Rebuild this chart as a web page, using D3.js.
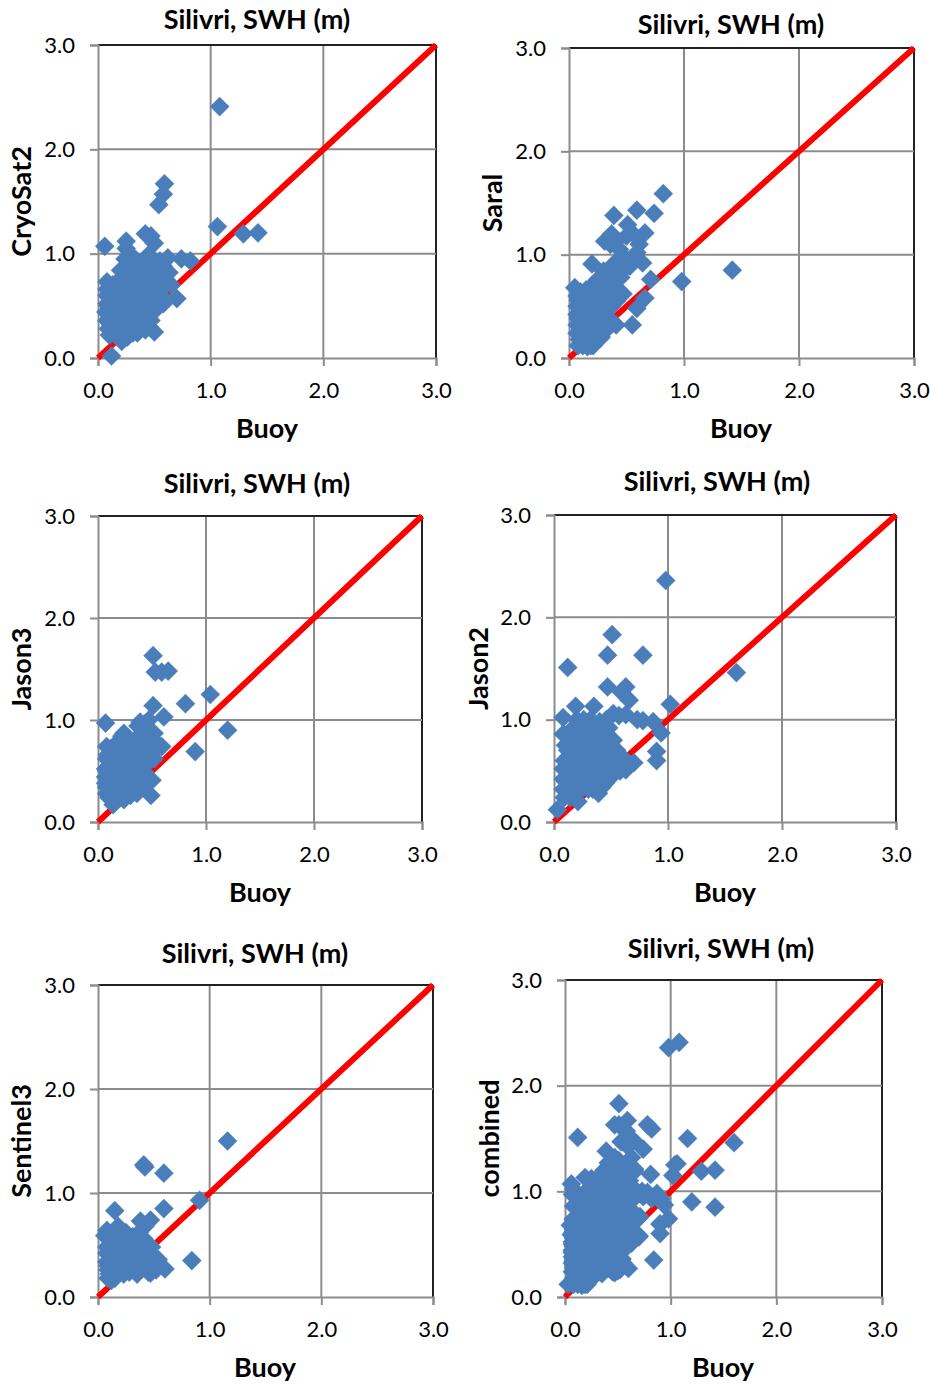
<!DOCTYPE html>
<html>
<head>
<meta charset="utf-8">
<script src="https://cdn.jsdelivr.net/npm/d3@7"></script>
<style>
  html, body { margin: 0; padding: 0; background: #fff; }
  text { font-family: Lato, "Open Sans", sans-serif; fill: #000; }
  .tick text { font-size: 22px; }
  .title, .axis-label { font-size: 27px; font-weight: 700; }
</style>
</head>
<body>
<svg width="931" height="1384"></svg>
<script>
const svg = d3.select("svg");

const tickValues = [0, 1, 2, 3];
const titleText = "Silivri, SWH (m)";
const xLabelText = "Buoy";
const refLine = [[0, 0], [3, 3]];

// [buoy, satellite], outliers first then the dense cloud
const cryosat2 = [
  [1.08,2.41],[0.59,1.67],[0.58,1.57],[0.54,1.47],[1.06,1.26],[1.29,1.19],[1.42,1.20],[0.06,1.07],
  [0.25,1.12],[0.25,1.05],[0.42,1.19],[0.47,1.17],[0.50,1.10],[0.12,0.02],[0.82,0.93],[0.74,0.95],
  [0.62,0.96],[0.55,0.93],[0.70,0.57],[0.65,0.70],[0.60,0.75],[0.50,0.25],[0.42,0.27],[0.37,0.27],
  [0.08,0.52],[0.07,0.44],[0.08,0.60],[0.08,0.36],[0.08,0.66],[0.08,0.73],[0.09,0.50],[0.09,0.28],
  [0.09,0.42],[0.10,0.22],[0.10,0.58],[0.10,0.34],[0.11,0.65],[0.12,0.47],[0.13,0.70],[0.14,0.40],
  [0.14,0.55],[0.15,0.30],[0.16,0.62],[0.17,0.48],[0.18,0.22],[0.18,0.74],[0.19,0.36],[0.20,0.84],
  [0.20,0.56],[0.21,0.16],[0.22,0.44],[0.23,0.66],[0.24,0.95],[0.24,0.28],[0.25,0.76],[0.25,0.52],
  [0.26,0.20],[0.27,0.88],[0.27,0.38],[0.28,0.60],[0.29,0.70],[0.30,0.46],[0.30,0.98],[0.31,0.24],
  [0.32,0.82],[0.32,0.54],[0.33,0.33],[0.34,0.64],[0.35,0.90],[0.36,0.42],[0.36,0.74],[0.38,0.56],
  [0.39,0.86],[0.40,0.68],[0.40,0.36],[0.41,0.94],[0.42,0.48],[0.43,0.78],[0.44,0.60],[0.45,0.99],
  [0.46,0.42],[0.46,0.72],[0.47,0.86],[0.48,0.54],[0.50,0.66],[0.51,0.80],[0.52,0.50],[0.55,0.74],
  [0.56,0.60],[0.58,0.88],[0.45,0.30],[0.40,0.30],[0.47,0.36],[0.53,0.55],[0.35,0.24],[0.50,0.45],
  [0.58,0.52],[0.56,0.66],[0.63,0.82]
];

const saral = [
  [0.82,1.59],[0.59,1.43],[0.74,1.40],[0.39,1.38],[0.51,1.29],[0.66,1.21],[0.56,1.20],[0.37,1.20],
  [0.31,1.13],[0.61,1.10],[0.20,0.91],[0.64,0.92],[1.42,0.85],[0.98,0.74],[0.71,0.76],[0.66,0.58],
  [0.59,0.48],[0.55,0.32],[0.41,0.32],[0.50,0.95],[0.53,0.89],[0.43,0.95],[0.39,0.86],[0.44,1.05],
  [0.59,1.02],[0.36,1.10],[0.40,1.12],[0.50,1.18],
  [0.05,0.68],[0.07,0.60],[0.07,0.50],[0.07,0.42],[0.07,0.32],[0.07,0.24],[0.08,0.12],[0.08,0.56],
  [0.08,0.38],[0.09,0.18],[0.10,0.64],[0.10,0.46],[0.11,0.28],[0.12,0.12],[0.13,0.54],[0.14,0.36],
  [0.15,0.66],[0.15,0.20],[0.16,0.46],[0.17,0.28],[0.18,0.58],[0.19,0.12],[0.20,0.70],[0.20,0.38],
  [0.21,0.12],[0.22,0.50],[0.23,0.22],[0.24,0.64],[0.25,0.30],[0.25,0.76],[0.26,0.42],[0.27,0.54],
  [0.28,0.72],[0.29,0.34],[0.30,0.62],[0.30,0.84],[0.31,0.48],[0.32,0.76],[0.33,0.40],[0.34,0.58],
  [0.35,0.68],[0.36,0.82],[0.37,0.50],[0.38,0.90],[0.39,0.62],[0.40,0.74],[0.41,0.55],[0.43,0.66],
  [0.45,0.78],[0.47,0.62],[0.48,0.86],[0.28,0.20],[0.33,0.28],[0.38,0.34],[0.16,0.11],[0.25,0.18]
];

const jason3 = [
  [0.51,1.63],[0.53,1.47],[0.59,1.47],[0.65,1.48],[1.04,1.25],[0.81,1.16],[0.51,1.14],[0.61,1.03],
  [0.07,0.97],[0.39,0.98],[0.47,1.00],[1.20,0.90],[0.90,0.69],[0.49,0.26],[0.50,0.41],[0.59,0.74],
  [0.52,0.87],[0.43,0.96],[0.46,0.74],
  [0.24,0.87],[0.08,0.74],[0.14,0.17],[0.07,0.52],[0.07,0.44],[0.07,0.38],[0.08,0.62],[0.08,0.28],
  [0.08,0.50],[0.08,0.34],[0.09,0.66],[0.10,0.42],[0.10,0.24],[0.11,0.56],[0.12,0.72],[0.13,0.30],
  [0.14,0.48],[0.15,0.62],[0.16,0.20],[0.17,0.38],[0.18,0.78],[0.18,0.54],[0.19,0.28],[0.20,0.68],
  [0.21,0.44],[0.22,0.84],[0.23,0.58],[0.24,0.34],[0.25,0.74],[0.26,0.50],[0.27,0.28],[0.27,0.64],
  [0.28,0.82],[0.29,0.42],[0.30,0.56],[0.31,0.70],[0.32,0.34],[0.33,0.50],[0.34,0.80],[0.35,0.62],
  [0.36,0.42],[0.37,0.94],[0.38,0.72],[0.39,0.54],[0.40,0.86],[0.41,0.36],[0.42,0.64],[0.43,0.78],
  [0.44,0.48],[0.45,0.90],[0.46,0.58],[0.48,0.68],[0.50,0.82],[0.52,0.62],[0.54,0.72],[0.30,0.26],
  [0.36,0.28],[0.24,0.22],[0.44,0.40]
];

const jason2 = [
  [0.98,2.36],[0.51,1.83],[0.47,1.63],[0.78,1.63],[0.12,1.51],[1.60,1.46],[0.47,1.32],[0.63,1.32],
  [0.59,1.27],[0.66,1.19],[1.02,1.15],[0.19,1.13],[0.35,1.13],[0.08,1.02],[0.52,1.06],[0.63,1.05],
  [0.73,1.00],[0.78,0.99],[0.87,0.98],[0.94,0.87],[0.90,0.69],[0.90,0.60],[0.70,0.58],[0.63,0.51],
  [0.39,0.28],[0.21,0.20],[0.03,0.12],[0.46,1.00],[0.57,1.04],
  [0.08,0.42],[0.08,0.32],[0.08,0.52],[0.09,0.24],[0.09,0.60],[0.10,0.40],[0.11,0.30],[0.12,0.70],
  [0.13,0.50],[0.14,0.84],[0.14,0.24],[0.15,0.62],[0.16,0.38],[0.17,0.92],[0.18,0.74],[0.19,0.52],
  [0.20,0.30],[0.21,0.84],[0.22,0.64],[0.23,0.44],[0.24,0.96],[0.25,0.74],[0.26,0.34],[0.27,0.56],
  [0.28,0.88],[0.29,0.66],[0.30,0.44],[0.31,0.78],[0.32,0.94],[0.33,0.54],[0.34,0.32],[0.35,0.68],
  [0.36,0.84],[0.37,0.48],[0.38,0.60],[0.39,0.74],[0.40,0.92],[0.41,0.38],[0.42,0.54],[0.43,0.68],
  [0.44,0.84],[0.45,0.46],[0.46,0.62],[0.47,0.74],[0.48,0.92],[0.50,0.54],[0.51,0.66],[0.52,0.80],
  [0.54,0.50],[0.55,0.70],[0.57,0.60],[0.58,0.50],[0.60,0.62],[0.63,0.60],[0.66,0.56],[0.08,0.86],
  [0.10,0.75],[0.20,1.00],[0.26,1.00],[0.32,1.00],[0.40,0.98],[0.30,0.32],[0.45,0.38],[0.50,0.44],
  [0.42,0.34],[0.36,0.36]
];

const sentinel3 = [
  [1.16,1.50],[0.41,1.27],[0.42,1.25],[0.59,1.19],[0.91,0.93],[0.59,0.85],[0.15,0.83],[0.47,0.74],
  [0.38,0.73],[0.18,0.68],[0.08,0.64],[0.06,0.59],[0.84,0.35],[0.60,0.27],[0.50,0.38],[0.47,0.23],
  [0.08,0.42],[0.09,0.26],[0.08,0.34],[0.09,0.18],[0.08,0.48],[0.09,0.30],[0.10,0.22],[0.11,0.56],
  [0.12,0.38],[0.13,0.26],[0.14,0.46],[0.15,0.18],[0.16,0.62],[0.17,0.32],[0.18,0.52],[0.19,0.24],
  [0.20,0.42],[0.21,0.58],[0.22,0.34],[0.23,0.22],[0.24,0.50],[0.25,0.62],[0.26,0.28],[0.27,0.40],
  [0.28,0.24],[0.29,0.50],[0.30,0.34],[0.31,0.58],[0.32,0.26],[0.33,0.44],[0.34,0.30],[0.35,0.54],
  [0.36,0.38],[0.37,0.62],[0.38,0.26],[0.39,0.46],[0.40,0.34],[0.41,0.56],[0.42,0.68],[0.43,0.28],
  [0.44,0.42],[0.45,0.24],[0.46,0.34],[0.48,0.48],[0.52,0.32],[0.54,0.36],[0.12,0.16],[0.35,0.22],
  [0.52,0.26]
];

// the last panel plots all five missions together, the lone point near zero is not in it
const combined = [...cryosat2, ...saral, ...jason3, ...jason2, ...sentinel3].filter((d) => d[1] > 0.1);

// pixel box of each plot inside the photographed page
const panels = [
  { ylabel: "CryoSat2", data: cryosat2, left: 98, right: 436, top: 45, bottom: 358, titleX: 257, titleY: 29, xLabelX: 267, xLabelY: 438, yLabelX: 31 },
  { ylabel: "Saral", data: saral, left: 569, right: 914, top: 48, bottom: 358, titleX: 731, titleY: 34, xLabelX: 741, xLabelY: 438, yLabelX: 502 },
  { ylabel: "Jason3", data: jason3, left: 98, right: 422, top: 516, bottom: 822, titleX: 257, titleY: 493, xLabelX: 260, xLabelY: 902, yLabelX: 31 },
  { ylabel: "Jason2", data: jason2, left: 554, right: 896, top: 515, bottom: 822, titleX: 717, titleY: 491, xLabelX: 725, xLabelY: 902, yLabelX: 488 },
  { ylabel: "Sentinel3", data: sentinel3, left: 98, right: 433, top: 985, bottom: 1297, titleX: 255, titleY: 963, xLabelX: 265, xLabelY: 1377, yLabelX: 31 },
  { ylabel: "combined", data: combined, left: 565, right: 882, top: 980, bottom: 1297, titleX: 721, titleY: 958, xLabelX: 723, xLabelY: 1377, yLabelX: 499 },
];

const diamond = d3.symbol().type(d3.symbolSquare).size(185);

const drawPanel = (p) => {
  const xScale = d3.scaleLinear().domain([0, 3]).range([p.left, p.right]);
  const yScale = d3.scaleLinear().domain([0, 3]).range([p.bottom, p.top]);
  const g = svg.append("g");

  // inner grid, the last vertical one and the top one come out black
  g.selectAll(".vgrid")
    .data(tickValues.slice(1))
    .enter()
    .append("line")
    .attr("x1", (d) => xScale(d))
    .attr("x2", (d) => xScale(d))
    .attr("y1", p.top)
    .attr("y2", p.bottom)
    .attr("stroke", (d) => (d === 3 ? "#222" : "#8c8c8c"))
    .attr("stroke-width", 2);

  g.selectAll(".hgrid")
    .data(tickValues.slice(1))
    .enter()
    .append("line")
    .attr("x1", p.left)
    .attr("x2", p.right)
    .attr("y1", (d) => yScale(d))
    .attr("y2", (d) => yScale(d))
    .attr("stroke", (d) => (d === 3 ? "#222" : "#8c8c8c"))
    .attr("stroke-width", 2);

  const xAxis = d3.axisBottom(xScale).tickValues(tickValues).tickFormat(d3.format(".1f")).tickSize(8).tickPadding(16);
  const yAxis = d3.axisLeft(yScale).tickValues(tickValues).tickFormat(d3.format(".1f")).tickSize(8).tickPadding(15);

  const xAxisG = g.append("g").attr("transform", `translate(0,${p.bottom})`).call(xAxis);
  const yAxisG = g.append("g").attr("transform", `translate(${p.left},0)`).call(yAxis);
  [xAxisG, yAxisG].forEach((a) => {
    a.selectAll("path, line").attr("stroke", "#8c8c8c").attr("stroke-width", 2);
    a.selectAll("text").attr("fill", "#000");
  });

  g.append("path")
    .attr("d", d3.line().x((d) => xScale(d[0])).y((d) => yScale(d[1]))(refLine))
    .attr("fill", "none")
    .attr("stroke", "#ff0000")
    .attr("stroke-width", 6);

  g.selectAll(".point")
    .data(p.data)
    .enter()
    .append("path")
    .attr("d", diamond)
    .attr("fill", "#4a7ebb")
    .attr("stroke", "#4a7ebb")
    .attr("stroke-opacity", 0.5)
    .attr("stroke-width", 0.6)
    .attr("transform", (d) => `translate(${xScale(d[0])},${yScale(d[1])}) rotate(45)`);

  g.append("text")
    .attr("class", "title")
    .attr("x", p.titleX)
    .attr("y", p.titleY)
    .attr("text-anchor", "middle")
    .text(titleText);

  g.append("text")
    .attr("class", "axis-label")
    .attr("x", p.xLabelX)
    .attr("y", p.xLabelY)
    .attr("text-anchor", "middle")
    .text(xLabelText);

  g.append("text")
    .attr("class", "axis-label")
    .attr("transform", `translate(${p.yLabelX},${(p.top + p.bottom) / 2}) rotate(-90)`)
    .attr("text-anchor", "middle")
    .text(p.ylabel);
};

panels.forEach(drawPanel);
</script>
</body>
</html>
